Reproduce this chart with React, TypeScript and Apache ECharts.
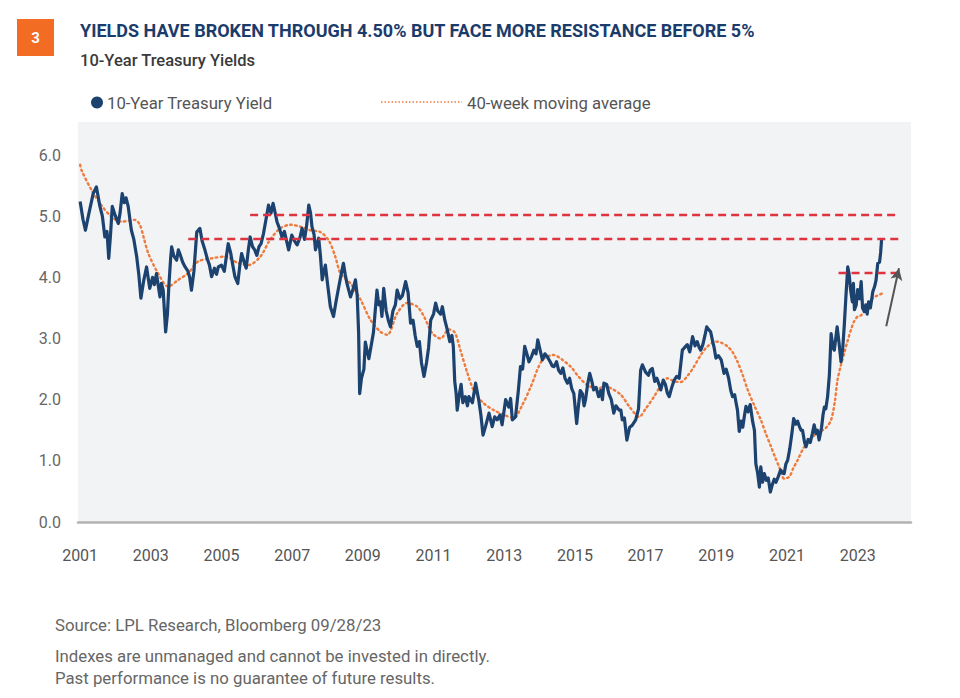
import React, { useEffect, useRef } from "react";
import * as echarts from "echarts";

// ---------- DATA (x = decimal year) ----------
const yieldPoints: [number, number][] = [
  [2001.0, 5.24], [2001.08, 4.95], [2001.15, 4.77], [2001.25, 5.05], [2001.37, 5.37], [2001.46, 5.48],
  [2001.56, 5.16], [2001.63, 5.0], [2001.7, 4.66], [2001.76, 4.75], [2001.81, 4.31], [2001.86, 4.7],
  [2001.91, 5.16], [2002.0, 5.0], [2002.08, 4.88], [2002.13, 5.05], [2002.19, 5.37], [2002.25, 5.22],
  [2002.3, 5.3], [2002.36, 5.16], [2002.45, 4.77], [2002.52, 4.62], [2002.6, 4.34], [2002.66, 4.05],
  [2002.72, 3.66], [2002.8, 3.95], [2002.88, 4.17], [2002.97, 3.82], [2003.05, 4.0], [2003.1, 3.88],
  [2003.16, 4.06], [2003.26, 3.68], [2003.3, 3.9], [2003.35, 3.79], [2003.42, 3.11], [2003.47, 3.4],
  [2003.51, 3.85], [2003.56, 4.3], [2003.59, 4.5], [2003.65, 4.35], [2003.73, 4.28], [2003.78, 4.45],
  [2003.82, 4.39], [2003.9, 4.25], [2003.97, 4.17], [2004.05, 4.1], [2004.1, 4.0], [2004.15, 3.79],
  [2004.22, 4.1], [2004.3, 4.74], [2004.39, 4.8], [2004.45, 4.6], [2004.53, 4.45], [2004.6, 4.3],
  [2004.66, 4.2], [2004.72, 4.01], [2004.8, 4.15], [2004.86, 4.05], [2004.91, 4.17], [2005.0, 4.2],
  [2005.08, 4.1], [2005.14, 4.35], [2005.19, 4.55], [2005.26, 4.4], [2005.32, 4.2], [2005.38, 4.01],
  [2005.46, 3.9], [2005.52, 4.2], [2005.57, 4.39], [2005.64, 4.25], [2005.7, 4.15], [2005.76, 4.45],
  [2005.81, 4.66], [2005.88, 4.5], [2005.94, 4.45], [2006.0, 4.36], [2006.06, 4.5], [2006.12, 4.55],
  [2006.19, 4.72], [2006.26, 4.95], [2006.33, 5.18], [2006.4, 5.05], [2006.46, 5.21], [2006.52, 5.05],
  [2006.57, 4.91], [2006.64, 4.8], [2006.71, 4.66], [2006.78, 4.75], [2006.84, 4.6], [2006.9, 4.45],
  [2006.99, 4.69], [2007.06, 4.6], [2007.14, 4.53], [2007.22, 4.65], [2007.28, 4.8], [2007.35, 4.62],
  [2007.41, 4.85], [2007.47, 5.18], [2007.52, 5.05], [2007.56, 4.83], [2007.62, 4.7], [2007.66, 4.45],
  [2007.75, 4.64], [2007.8, 4.35], [2007.85, 3.96], [2007.9, 4.1], [2007.94, 4.2], [2008.0, 3.9],
  [2008.08, 3.52], [2008.17, 3.36], [2008.24, 3.6], [2008.32, 3.85], [2008.41, 4.12], [2008.45, 4.23],
  [2008.5, 4.05], [2008.55, 3.9], [2008.65, 3.68], [2008.72, 3.8], [2008.79, 3.96], [2008.84, 3.7],
  [2008.88, 3.1], [2008.91, 2.1], [2008.96, 2.35], [2009.03, 2.5], [2009.07, 2.94], [2009.12, 2.8],
  [2009.17, 2.67], [2009.24, 2.9], [2009.3, 3.1], [2009.35, 3.45], [2009.4, 3.79], [2009.45, 3.55],
  [2009.5, 3.6], [2009.54, 3.36], [2009.59, 3.82], [2009.66, 3.45], [2009.72, 3.3], [2009.78, 3.19],
  [2009.85, 3.45], [2009.92, 3.55], [2009.97, 3.79], [2010.05, 3.65], [2010.12, 3.7], [2010.21, 3.93],
  [2010.28, 3.75], [2010.35, 3.25], [2010.42, 3.3], [2010.48, 3.05], [2010.54, 2.87], [2010.6, 2.95],
  [2010.66, 2.6], [2010.73, 2.38], [2010.8, 2.6], [2010.86, 2.85], [2010.92, 3.3], [2011.0, 3.4],
  [2011.06, 3.58], [2011.12, 3.45], [2011.2, 3.4], [2011.25, 3.52], [2011.32, 3.3], [2011.39, 3.14],
  [2011.46, 2.95], [2011.52, 3.05], [2011.56, 2.87], [2011.6, 2.3], [2011.64, 2.1], [2011.67, 1.83],
  [2011.72, 2.05], [2011.78, 2.25], [2011.83, 1.95], [2011.9, 2.05], [2011.96, 1.9], [2012.0, 2.05],
  [2012.1, 1.95], [2012.19, 2.27], [2012.28, 1.99], [2012.34, 1.75], [2012.4, 1.42], [2012.47, 1.56],
  [2012.57, 1.78], [2012.66, 1.56], [2012.73, 1.72], [2012.8, 1.67], [2012.88, 1.75], [2012.94, 1.59],
  [2013.04, 2.0], [2013.13, 1.88], [2013.18, 2.02], [2013.23, 1.67], [2013.32, 1.72], [2013.4, 2.15],
  [2013.46, 2.54], [2013.52, 2.5], [2013.58, 2.87], [2013.64, 2.75], [2013.7, 2.62], [2013.77, 2.7],
  [2013.84, 2.81], [2013.9, 2.75], [2013.95, 2.98], [2014.02, 2.8], [2014.08, 2.65], [2014.15, 2.75],
  [2014.22, 2.7], [2014.3, 2.62], [2014.36, 2.55], [2014.41, 2.54], [2014.48, 2.62], [2014.54, 2.48],
  [2014.6, 2.43], [2014.66, 2.52], [2014.72, 2.35], [2014.79, 2.27], [2014.85, 2.35], [2014.91, 2.18],
  [2014.97, 2.1], [2015.05, 1.61], [2015.1, 1.9], [2015.15, 2.15], [2015.21, 2.1], [2015.26, 1.9],
  [2015.3, 2.0], [2015.36, 2.25], [2015.42, 2.43], [2015.48, 2.3], [2015.53, 2.16], [2015.6, 2.2],
  [2015.67, 2.05], [2015.73, 2.15], [2015.78, 2.0], [2015.82, 2.27], [2015.9, 2.25], [2015.96, 2.1],
  [2016.03, 2.0], [2016.1, 1.78], [2016.16, 1.9], [2016.25, 1.83], [2016.3, 1.83], [2016.34, 1.67],
  [2016.4, 1.7], [2016.47, 1.34], [2016.55, 1.55], [2016.62, 1.58], [2016.72, 1.67], [2016.8, 1.85],
  [2016.86, 2.48], [2016.91, 2.57], [2017.0, 2.45], [2017.08, 2.4], [2017.13, 2.48], [2017.19, 2.51],
  [2017.26, 2.3], [2017.32, 2.35], [2017.38, 2.25], [2017.43, 2.16], [2017.5, 2.32], [2017.56, 2.25],
  [2017.62, 2.1], [2017.67, 2.05], [2017.74, 2.2], [2017.81, 2.32], [2017.88, 2.38], [2017.95, 2.35],
  [2018.04, 2.81], [2018.1, 2.85], [2018.18, 2.9], [2018.25, 2.78], [2018.33, 3.03], [2018.4, 2.88],
  [2018.46, 2.95], [2018.52, 2.85], [2018.56, 2.81], [2018.62, 2.9], [2018.68, 3.05], [2018.73, 3.19],
  [2018.78, 3.15], [2018.84, 3.11], [2018.9, 2.95], [2018.94, 2.85], [2018.99, 2.68], [2019.06, 2.72],
  [2019.14, 2.65], [2019.22, 2.43], [2019.28, 2.5], [2019.35, 2.35], [2019.41, 2.15], [2019.46, 2.05],
  [2019.52, 2.08], [2019.56, 1.95], [2019.6, 1.83], [2019.65, 1.48], [2019.7, 1.65], [2019.75, 1.55],
  [2019.8, 1.75], [2019.84, 1.89], [2019.9, 1.8], [2019.96, 1.92], [2020.03, 1.64], [2020.08, 1.5],
  [2020.12, 0.95], [2020.17, 0.8], [2020.22, 0.57], [2020.26, 0.9], [2020.31, 0.65], [2020.36, 0.79],
  [2020.42, 0.68], [2020.47, 0.72], [2020.53, 0.49], [2020.58, 0.6], [2020.64, 0.7], [2020.69, 0.65],
  [2020.76, 0.75], [2020.82, 0.85], [2020.88, 0.8], [2020.92, 0.79], [2020.97, 0.95], [2021.02, 1.01],
  [2021.08, 1.2], [2021.14, 1.45], [2021.19, 1.69], [2021.25, 1.6], [2021.3, 1.65], [2021.36, 1.55],
  [2021.4, 1.5], [2021.44, 1.5], [2021.5, 1.3], [2021.54, 1.23], [2021.6, 1.35], [2021.66, 1.3],
  [2021.72, 1.45], [2021.77, 1.59], [2021.82, 1.45], [2021.86, 1.5], [2021.91, 1.34], [2021.98, 1.55],
  [2022.02, 1.75], [2022.06, 1.88], [2022.1, 1.85], [2022.15, 2.05], [2022.2, 2.4], [2022.25, 3.08],
  [2022.3, 2.85], [2022.34, 2.81], [2022.38, 3.0], [2022.42, 3.19], [2022.47, 2.95], [2022.53, 2.62],
  [2022.58, 2.85], [2022.62, 3.2], [2022.67, 3.7], [2022.72, 4.17], [2022.76, 4.05], [2022.8, 3.8],
  [2022.85, 3.6], [2022.88, 3.9], [2022.91, 3.47], [2022.96, 3.55], [2023.0, 3.8], [2023.05, 3.65],
  [2023.1, 3.93], [2023.14, 3.5], [2023.19, 3.44], [2023.23, 3.55], [2023.27, 3.4], [2023.31, 3.6],
  [2023.36, 3.5], [2023.4, 3.65], [2023.43, 3.77], [2023.48, 3.85], [2023.52, 3.95], [2023.57, 4.23],
  [2023.62, 4.25], [2023.65, 4.4], [2023.68, 4.64],
];

const movingAveragePoints: [number, number][] = [
  [2001.0, 5.84], [2001.04, 5.75], [2001.32, 5.43], [2001.6, 5.18], [2001.89, 4.99], [2002.17, 4.91],
  [2002.4, 4.93], [2002.55, 4.94], [2002.69, 4.86], [2002.8, 4.65], [2002.93, 4.39], [2003.21, 4.06],
  [2003.49, 3.85], [2003.78, 3.96], [2004.06, 4.07], [2004.34, 4.26], [2004.72, 4.31], [2005.1, 4.34],
  [2005.48, 4.23], [2005.76, 4.2], [2006.1, 4.34], [2006.37, 4.61], [2006.66, 4.8], [2006.95, 4.86],
  [2007.23, 4.83], [2007.51, 4.77], [2007.8, 4.74], [2008.03, 4.61], [2008.22, 4.34], [2008.37, 4.06],
  [2008.65, 3.9], [2008.94, 3.63], [2009.22, 3.3], [2009.5, 3.11], [2009.69, 3.06], [2009.97, 3.41],
  [2010.25, 3.58], [2010.54, 3.52], [2010.73, 3.36], [2010.96, 3.09], [2011.2, 3.0], [2011.43, 3.15],
  [2011.6, 3.1], [2011.76, 2.81], [2011.95, 2.45], [2012.13, 2.16], [2012.4, 1.95], [2012.7, 1.83],
  [2013.0, 1.75], [2013.27, 1.7], [2013.5, 1.9], [2013.75, 2.21], [2014.08, 2.65], [2014.4, 2.73],
  [2014.65, 2.65], [2014.88, 2.54], [2015.1, 2.38], [2015.35, 2.24], [2015.65, 2.18], [2015.85, 2.22],
  [2016.01, 2.19], [2016.3, 2.08], [2016.55, 1.88], [2016.82, 1.72], [2017.0, 1.85], [2017.24, 2.05],
  [2017.45, 2.25], [2017.62, 2.35], [2017.8, 2.3], [2018.0, 2.29], [2018.2, 2.4], [2018.37, 2.54],
  [2018.55, 2.72], [2018.75, 2.87], [2018.99, 2.95], [2019.15, 2.93], [2019.32, 2.87], [2019.46, 2.78],
  [2019.6, 2.62], [2019.75, 2.4], [2019.89, 2.16], [2020.08, 1.9], [2020.26, 1.67], [2020.4, 1.45],
  [2020.55, 1.23], [2020.67, 1.05], [2020.78, 0.9], [2020.92, 0.71], [2021.07, 0.74], [2021.18, 0.88],
  [2021.3, 1.01], [2021.49, 1.23], [2021.7, 1.38], [2021.95, 1.48], [2022.12, 1.55], [2022.25, 1.67],
  [2022.35, 1.95], [2022.43, 2.32], [2022.52, 2.55], [2022.62, 2.76], [2022.72, 2.97], [2022.81, 3.14],
  [2022.9, 3.28], [2023.0, 3.36], [2023.1, 3.38], [2023.2, 3.45], [2023.29, 3.52], [2023.43, 3.66],
  [2023.55, 3.7], [2023.71, 3.74],
];

const resistanceLevels = [5.03, 4.63, 4.07];
const resistanceStarts = [2005.81, 2004.06, 2022.46];
const resistanceEnd = 2024.2;
const arrowFrom: [number, number] = [2023.81, 3.2];
const arrowTo: [number, number] = [2024.17, 4.15];

const yearTicks = [2001, 2003, 2005, 2007, 2009, 2011, 2013, 2015, 2017, 2019, 2021, 2023];
const yTicks = [0, 1, 2, 3, 4, 5, 6];

const TITLE = "YIELDS HAVE BROKEN THROUGH 4.50% BUT FACE MORE RESISTANCE BEFORE 5%";
const SUBTITLE = "10-Year Treasury Yields";
const SERIES_YIELD = "10-Year Treasury Yield";
const SERIES_MA = "40-week moving average";
const SOURCE = "Source: LPL Research, Bloomberg 09/28/23";
const DISCLAIMER_1 = "Indexes are unmanaged and cannot be invested in directly.";
const DISCLAIMER_2 = "Past performance is no guarantee of future results.";

// ---------- STYLE ----------
const NAVY = "#1c4270";
const ORANGE = "#ef7b3c";
const RED = "#df3340";
const FONT = "Roboto, 'Noto Sans', sans-serif";

export default function App() {
  const ref = useRef<HTMLDivElement>(null);

  useEffect(() => {
    if (!ref.current) return;
    const chart = echarts.init(ref.current, undefined, { renderer: "svg" });

    const resistanceData = resistanceLevels.map((lvl, i) => [
      { coord: [resistanceStarts[i], lvl] },
      { coord: [resistanceEnd, lvl] },
    ]);

    const option: any = {
      animation: false,
      backgroundColor: "#ffffff",
      grid: {
        left: 78,
        top: 122,
        width: 833,
        height: 400,
        show: true,
        backgroundColor: "#f2f3f5",
        borderWidth: 0,
      },
      xAxis: {
        type: "value",
        min: 2000.94,
        max: 2024.51,
        splitLine: { show: false },
        axisTick: { show: false },
        axisLine: { show: true, onZero: false, lineStyle: { color: "#b3b3b3", width: 2.5 } },
        axisLabel: {
          customValues: yearTicks,
          formatter: (v: number) => String(Math.round(v)),
          color: "#555555",
          fontFamily: FONT,
          fontSize: 16,
          margin: 25,
        },
      },
      yAxis: {
        type: "value",
        min: 0,
        max: 6.54,
        splitLine: { show: false },
        axisTick: { show: false },
        axisLine: { show: false },
        axisLabel: {
          customValues: yTicks,
          formatter: (v: number) => v.toFixed(1),
          color: "#666666",
          fontFamily: FONT,
          fontSize: 16,
          margin: 17,
        },
      },
      graphic: [
        { type: "rect", left: 17, top: 19, shape: { width: 37, height: 37 }, style: { fill: "#f26c23" } },
        {
          type: "text", x: 35.5, y: 38,
          style: { text: "3", fill: "#ffffff", font: `bold 15px ${FONT}`, textAlign: "center", textVerticalAlign: "middle" },
        },
        {
          type: "text", x: 80, y: 30.5,
          style: { text: TITLE, fill: "#1b3c6b", font: `bold 18px ${FONT}`, textVerticalAlign: "middle" },
        },
        {
          type: "text", x: 80, y: 60.5,
          style: { text: SUBTITLE, fill: "#3a3a3a", font: `500 16.5px ${FONT}`, textVerticalAlign: "middle" },
        },
        { type: "circle", shape: { cx: 97, cy: 102.5, r: 6 }, style: { fill: NAVY } },
        {
          type: "text", x: 107, y: 103,
          style: { text: SERIES_YIELD, fill: "#555555", font: `16.7px ${FONT}`, textVerticalAlign: "middle" },
        },
        {
          type: "line", shape: { x1: 381, y1: 102, x2: 462, y2: 102 },
          style: { stroke: ORANGE, lineWidth: 1.5, lineDash: [1.5, 2] },
        },
        {
          type: "text", x: 467, y: 103,
          style: { text: SERIES_MA, fill: "#555555", font: `16.7px ${FONT}`, textVerticalAlign: "middle" },
        },
        {
          type: "text", x: 55, y: 625,
          style: { text: SOURCE, fill: "#666666", font: `16.8px ${FONT}`, textVerticalAlign: "middle" },
        },
        {
          type: "text", x: 55, y: 656,
          style: { text: DISCLAIMER_1, fill: "#666666", font: `16.8px ${FONT}`, textVerticalAlign: "middle" },
        },
        {
          type: "text", x: 55, y: 678,
          style: { text: DISCLAIMER_2, fill: "#666666", font: `16.8px ${FONT}`, textVerticalAlign: "middle" },
        },
      ],
      series: [
        {
          name: SERIES_MA,
          type: "line",
          data: movingAveragePoints,
          showSymbol: false,
          smooth: 0.3,
          silent: true,
          lineStyle: { color: ORANGE, width: 2.4, type: [1.6, 3.4], cap: "round" },
          z: 2,
        },
        {
          name: SERIES_YIELD,
          type: "line",
          data: yieldPoints,
          showSymbol: false,
          silent: true,
          lineStyle: { color: NAVY, width: 3.2, join: "round" },
          z: 3,
          markLine: {
            silent: true,
            symbol: "none",
            label: { show: false },
            lineStyle: { color: RED, width: 2.4, type: [8, 5] },
            data: resistanceData,
          },
        },
        {
          name: "arrow",
          type: "line",
          data: [],
          silent: true,
          z: 4,
          markLine: {
            silent: true,
            symbol: ["none", "arrow"],
            symbolSize: [9, 12],
            label: { show: false },
            lineStyle: { color: "#555555", width: 2, type: "solid" },
            data: [[{ coord: arrowFrom }, { coord: arrowTo }]],
          },
        },
      ],
    };

    chart.setOption(option);
    return () => chart.dispose();
  }, []);

  return (
    <div
      ref={ref}
      style={{ position: "fixed", left: 0, top: 0, width: 960, height: 698, background: "#ffffff" }}
    />
  );
}
